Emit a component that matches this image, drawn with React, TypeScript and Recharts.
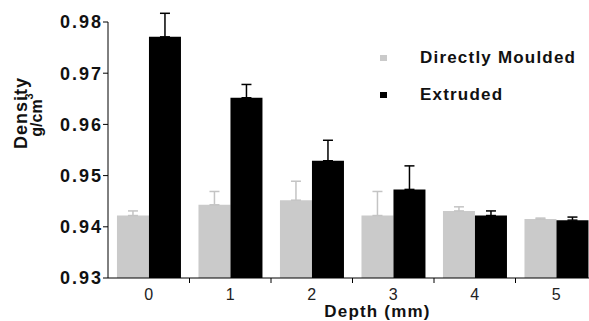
import { Bar, BarChart, ErrorBar, Legend, XAxis, YAxis } from 'recharts'

const depths = ['0', '1', '2', '3', '4', '5']
const moulded = [0.9422, 0.9443, 0.9452, 0.9422, 0.9431, 0.9415]
const mouldedErr = [0.0009, 0.0026, 0.0037, 0.0047, 0.0008, 0.0002]
const extruded = [0.9771, 0.9652, 0.9529, 0.9473, 0.9422, 0.9413]
const extrudedErr = [0.0046, 0.0026, 0.004, 0.0046, 0.0009, 0.0006]
const yTicks = [0.93, 0.94, 0.95, 0.96, 0.97, 0.98]

const data = depths.map((d, i) => ({
  depth: d,
  moulded: moulded[i],
  mouldedErr: [0, mouldedErr[i]],
  extruded: extruded[i],
  extrudedErr: [0, extrudedErr[i]],
}))

const font = '"Liberation Sans", Arial, sans-serif'

function DepthTick(props: any) {
  const { x, y, payload } = props
  const off = payload.offset ?? 0
  return (
    <g>
      <line x1={x + off} x2={x + off} y1={y} y2={y + 5} stroke="#000" />
      <text x={x} y={y + 22} textAnchor="middle" fontFamily={font} fontSize={16} fill="#222">
        {payload.value}
      </text>
    </g>
  )
}

function YLabel(props: any) {
  const { viewBox } = props
  const cy = viewBox.y + viewBox.height / 2 - 37
  return (
    <g fontFamily={font} fontWeight="bold" fill="#111">
      <text
        x={21}
        y={cy}
        transform={`rotate(-90, 21, ${cy})`}
        textAnchor="middle"
        dominantBaseline="central"
        fontSize={18}
        letterSpacing={1}
      >
        Density
      </text>
      <text
        x={36}
        y={cy + 2}
        transform={`rotate(-90, 36, ${cy + 2})`}
        textAnchor="middle"
        dominantBaseline="central"
        fontSize={16}
      >
        g/cm<tspan dy={-7} fontSize={11}>3</tspan>
      </text>
    </g>
  )
}

function XLabel(props: any) {
  const { viewBox } = props
  return (
    <text
      x={viewBox.x + viewBox.width / 2 + 25}
      y={viewBox.y + 39}
      textAnchor="middle"
      fontFamily={font}
      fontWeight="bold"
      fontSize={17}
      letterSpacing={1.2}
      fill="#111"
    >
      Depth (mm)
    </text>
  )
}

function LegendBox(props: any) {
  const { payload } = props
  return (
    <div style={{ fontFamily: font, fontWeight: 'bold', fontSize: 17, letterSpacing: 1.2, color: '#111' }}>
      {payload.map((p: any) => (
        <div key={p.value} style={{ display: 'flex', alignItems: 'center', height: 37 }}>
          <span style={{ width: 7, height: 6, background: p.color, marginRight: 33 }} />
          <span>{p.value}</span>
        </div>
      ))}
    </div>
  )
}

export default function App() {
  return (
    <div
      style={{
        position: 'fixed',
        left: 0,
        top: 0,
        width: 589,
        height: 321,
        overflow: 'hidden',
        background: '#fff',
      }}
    >
      <BarChart
        width={620}
        height={321}
        data={data}
        margin={{ top: 22, right: 23, bottom: 0, left: 0 }}
        barCategoryGap="11%"
        barGap={0}
      >
        <XAxis
          dataKey="depth"
          height={43}
          stroke="#000"
          tickSize={0}
          tickLine={false}
          tickMargin={0}
          tick={<DepthTick />}
          label={<XLabel />}
        />
        <YAxis
          width={108}
          domain={[0.93, 0.98]}
          ticks={yTicks}
          allowDataOverflow
          stroke="#000"
          tickSize={5}
          tickMargin={0}
          tickFormatter={(v: number) => v.toFixed(2)}
          tick={{ fontFamily: font, fontWeight: 'bold', fontSize: 18, fill: '#111', letterSpacing: 2 }}
          label={<YLabel />}
        />
        <Legend
          layout="vertical"
          align="center"
          verticalAlign="middle"
          wrapperStyle={{ left: 380, top: 39 }}
          content={<LegendBox />}
        />
        <Bar dataKey="moulded" name="Directly Moulded" fill="#cacaca" isAnimationActive={false}>
          <ErrorBar dataKey="mouldedErr" width={5} stroke="#c4c4c4" strokeWidth={1.5} isAnimationActive={false} />
        </Bar>
        <Bar dataKey="extruded" name="Extruded" fill="#000" isAnimationActive={false}>
          <ErrorBar dataKey="extrudedErr" width={5} stroke="#000" strokeWidth={1.5} isAnimationActive={false} />
        </Bar>
      </BarChart>
    </div>
  )
}
